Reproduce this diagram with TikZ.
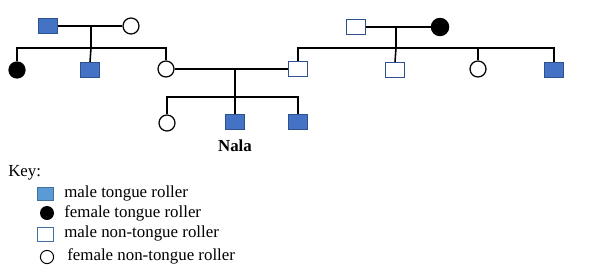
\documentclass[tikz,border=0pt]{standalone}
\usepackage{fontspec}
\setmainfont{Liberation Serif}
\usetikzlibrary{positioning, calc}
\definecolor{pedblue}{RGB}{68,114,196}
\definecolor{pededge}{RGB}{47,82,143}
\definecolor{keyblue}{RGB}{91,155,213}
\definecolor{keyedge}{RGB}{65,113,156}

\begin{document}
\begin{tikzpicture}[
    x=0.025cm, y=-0.025cm,
    male/.style={draw=pededge, line width=0.9pt, fill=white,
        minimum width=0.48cm, minimum height=0.37cm, inner sep=0pt},
    female/.style={circle, draw=black, line width=0.9pt, fill=white,
        minimum size=0.4cm, inner sep=0pt},
    roller/.style={fill=pedblue},
    froller/.style={fill=black},
    link/.style={line width=1.1pt, black},
    keytext/.style={anchor=west, inner sep=0pt, font=\fontsize{12}{14}\selectfont}
]
\useasboundingbox (0,0) rectangle (604,276);

% Left grandparents
\node[male, roller] (gpaL) at (48,26) {};
\node[female] (gmaL) at (131,26) {};
\draw[link] (gpaL) -- (gmaL);

% Left children
\node[female, froller] (auntL) at (17,70) {};
\node[male, roller] (uncleL) at (90,70) {};
\node[female] (mum) at (166,69) {};
\coordinate (sibL) at (91,48);
\draw[link] (91,26) -- (sibL);
\draw[link] (auntL.north) |- (sibL) -| (mum.north);
\draw[link] (sibL) -- (uncleL.north);

% Right grandparents
\node[male] (gpaR) at (356,27) {};
\node[female, froller, minimum size=0.43cm] (gmaR) at (440,27) {};
\draw[link] (gpaR) -- (gmaR);

% Right children
\node[male] (dad) at (298,69) {};
\node[male] (uncleR) at (395,70) {};
\node[female] (auntR) at (478,69) {};
\node[male, roller] (uncleR2) at (554,70) {};
\coordinate (sibR) at (396,48);
\draw[link] (396,27) -- (sibR);
\draw[link] (dad.north) |- (sibR) -| (uncleR2.north);
\draw[link] (sibR) -- (uncleR.north);
\draw[link] (auntR.north) -- (auntR.north |- sibR);

% Parents and their children
\draw[link] (mum) -- (dad);
\node[female] (sis) at (167,123) {};
\node[male, roller] (nala) at (235,122) {};
\node[male, roller] (bro) at (298,122) {};
\coordinate (sibN) at (235,97);
\draw[link] (235,69) -- (sibN);
\draw[link] (sis.north) |- (sibN) -| (bro.north);
\draw[link] (sibN) -- (nala.north);
\node[font=\fontsize{12}{14}\selectfont\bfseries] (nalalbl) at (235,146) {Nala};

% Key
\node[keytext] (key) at (8,173) {Key:};
\node[draw=keyedge, fill=keyblue, line width=0.6pt, minimum width=0.42cm, minimum height=0.34cm, inner sep=0pt] (k1) at (45.5,194) {};
\node[circle, fill=black, minimum size=0.35cm, inner sep=0pt] (k2) at (47,213) {};
\node[draw=keyedge, line width=0.6pt, minimum width=0.42cm, minimum height=0.33cm, inner sep=0pt] (k3) at (45.5,234.5) {};
\node[circle, draw=black, line width=0.7pt, minimum size=0.33cm, inner sep=0pt] (k4) at (47,257) {};
\node[keytext] (t1) at (64,193) {male tongue roller};
\node[keytext] (t2) at (64,213) {female tongue roller};
\node[keytext] (t3) at (64,233) {male non-tongue roller};
\node[keytext] (t4) at (67,256) {female non-tongue roller};

\end{tikzpicture}
\end{document}
